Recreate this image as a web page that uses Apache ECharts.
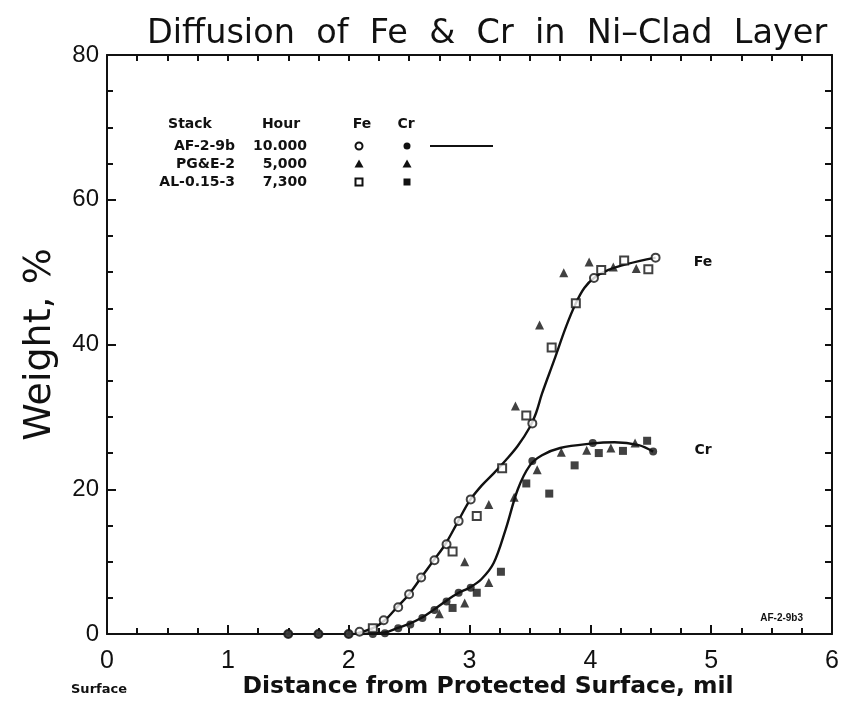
<!DOCTYPE html>
<html>
<head>
<meta charset="utf-8">
<script src="https://cdn.jsdelivr.net/npm/echarts@6/dist/echarts.min.js"></script>
<style>
  html, body { margin: 0; padding: 0; background: #fff; }
  #main { width: 842px; height: 716px; }
</style>
</head>
<body>
<div id="main"></div>
<script>
// 读图得到的数据 (distance mil, weight %)
var feAF = [[1.5, 0], [1.75, 0], [2.0, 0], [2.09, 0.3], [2.29, 1.9], [2.41, 3.7], [2.5, 5.5], [2.6, 7.8],
  [2.71, 10.2], [2.81, 12.4], [2.91, 15.6], [3.01, 18.6], [3.52, 29.1], [4.03, 49.2], [4.54, 52.0]];
var crAF = [[1.5, 0], [1.75, 0], [2.0, 0], [2.2, 0], [2.3, 0.1], [2.41, 0.8], [2.51, 1.3], [2.61, 2.2],
  [2.71, 3.3], [2.81, 4.5], [2.91, 5.7], [3.01, 6.4], [3.52, 23.9], [4.02, 26.4], [4.52, 25.2]];
var fePG = [[2.96, 10.0], [3.16, 17.9], [3.38, 31.5], [3.58, 42.7], [3.78, 49.9], [3.99, 51.4], [4.19, 50.7], [4.38, 50.5]];
var crPG = [[2.75, 2.8], [2.96, 4.3], [3.16, 7.1], [3.37, 18.9], [3.56, 22.7], [3.76, 25.1], [3.97, 25.4], [4.17, 25.7], [4.37, 26.4]];
var feAL = [[2.2, 0.8], [2.86, 11.4], [3.06, 16.3], [3.27, 22.9], [3.47, 30.2], [3.68, 39.6], [3.88, 45.7],
  [4.09, 50.3], [4.28, 51.6], [4.48, 50.4]];
var crAL = [[2.86, 3.6], [3.06, 5.7], [3.26, 8.6], [3.47, 20.8], [3.66, 19.4], [3.87, 23.3], [4.07, 25.0], [4.27, 25.3], [4.47, 26.7]];

// 拟合曲线
var feCurve = [[2.05, 0], [2.2, 0.8], [2.3, 1.9], [2.4, 3.7], [2.5, 5.5], [2.6, 7.8], [2.7, 10.1], [2.8, 12.4],
  [2.9, 15.4], [3.0, 18.4], [3.1, 20.5], [3.2, 22.2], [3.3, 24.0], [3.4, 26.0], [3.5, 28.6], [3.55, 30.5],
  [3.6, 33.2], [3.7, 37.8], [3.8, 42.5], [3.88, 45.7], [3.95, 47.8], [4.03, 49.2], [4.15, 50.3], [4.3, 51.1], [4.54, 52.0]];
var crCurve = [[2.1, 0], [2.3, 0.2], [2.4, 0.8], [2.5, 1.4], [2.6, 2.2], [2.7, 3.3], [2.8, 4.5], [2.9, 5.6],
  [3.0, 6.4], [3.1, 7.6], [3.2, 9.8], [3.3, 14.5], [3.4, 20.0], [3.5, 23.3], [3.6, 24.7], [3.75, 25.7],
  [4.0, 26.3], [4.2, 26.5], [4.4, 26.1], [4.52, 25.2]];

var stacks = ['AF-2-9b', 'PG&E-2', 'AL-0.15-3'];
var hours = ['10.000', '5,000', '7,300'];

var chart = echarts.init(document.getElementById('main'), null, { renderer: 'canvas' });

var ink = '#111';
var lblFont = 'Liberation Sans';
var boldFont = 'DejaVu Sans';

function pts(name, data, symbol, filled, size) {
  return {
    name: name,
    type: 'scatter',
    data: data,
    symbol: symbol,
    symbolSize: size || 7,
    itemStyle: filled ? { color: ink } : { color: '#fff', borderColor: ink, borderWidth: 2 },
    z: 5
  };
}

function frameAxis(extra) {
  var a = {
    type: 'value',
    axisLine: { onZero: false, lineStyle: { color: ink, width: 2 } },
    axisTick: { inside: true, length: 9, lineStyle: { color: ink, width: 2 } },
    minorTick: { show: true, splitNumber: 4, length: 6, lineStyle: { color: ink, width: 2 } },
    splitLine: { show: false }
  };
  for (var k in extra) a[k] = extra[k];
  return a;
}

function legendRows() {
  var els = [];
  var f = 'bold 14px ' + boldFont;
  var hx = [{ t: 'Stack', x: 190 }, { t: 'Hour', x: 281 }, { t: 'Fe', x: 362 }, { t: 'Cr', x: 406 }];
  hx.forEach(function (h) {
    els.push({ type: 'text', x: h.x, y: 124, style: { text: h.t, font: f, fill: ink, align: 'center', verticalAlign: 'middle' } });
  });
  var ys = [146, 164, 182];
  var syms = ['circle', 'triangle', 'rect'];
  for (var i = 0; i < stacks.length; i++) {
    els.push({ type: 'text', x: 235, y: ys[i], style: { text: stacks[i], font: f, fill: ink, align: 'right', verticalAlign: 'middle' } });
    els.push({ type: 'text', x: 307, y: ys[i], style: { text: hours[i], font: f, fill: ink, align: 'right', verticalAlign: 'middle' } });
    [[359, false], [407, true]].forEach(function (m) {
      var st = m[1] ? { fill: ink } : { fill: '#fff', stroke: ink, lineWidth: 2 };
      if (syms[i] === 'circle') els.push({ type: 'circle', shape: { cx: m[0], cy: ys[i], r: 3.5 }, style: st });
      else if (syms[i] === 'rect') els.push({ type: 'rect', shape: { x: m[0] - 3.5, y: ys[i] - 3.5, width: 7, height: 7 }, style: st });
      else els.push({ type: 'polygon', shape: { points: [[m[0], ys[i] - 4.5], [m[0] - 4.5, ys[i] + 3.5], [m[0] + 4.5, ys[i] + 3.5]] }, style: { fill: ink } });
    });
  }
  els.push({ type: 'line', shape: { x1: 430, y1: 146, x2: 493, y2: 146 }, style: { stroke: ink, lineWidth: 2 } });
  return els;
}

var option = {
  backgroundColor: '#ffffff',
  animation: false,
  title: {
    text: 'Diffusion  of  Fe  &  Cr  in  Ni\u2013Clad  Layer',
    left: 142,
    top: 12,
    textStyle: { fontFamily: 'DejaVu Sans', fontWeight: 'normal', fontSize: 33.5, color: ink }
  },
  grid: { left: 107, right: 10, top: 55, bottom: 82 },
  xAxis: [
    frameAxis({ min: 0, max: 6, interval: 1, position: 'bottom',
      axisLabel: { color: ink, fontSize: 25, fontFamily: lblFont, margin: 15 } }),
    frameAxis({ min: 0, max: 6, interval: 1, position: 'top',
      axisTick: { inside: true, length: 6, lineStyle: { color: ink, width: 2 } },
      axisLabel: { show: false } })
  ],
  yAxis: [
    frameAxis({ min: 0, max: 80, interval: 20, position: 'left',
      name: 'Weight, %', nameLocation: 'middle', nameGap: 48, nameRotate: 90,
      nameTextStyle: { fontFamily: 'DejaVu Sans', fontSize: 38, color: ink },
      axisLabel: { color: ink, fontSize: 24, fontFamily: lblFont, margin: 8 } }),
    frameAxis({ min: 0, max: 80, interval: 20, position: 'right',
      axisTick: { inside: true, length: 7, lineStyle: { color: ink, width: 2 } },
      minorTick: { show: true, splitNumber: 4, length: 7, lineStyle: { color: ink, width: 2 } },
      axisLabel: { show: false } })
  ],
  series: [
    { name: 'Fe curve', type: 'line', data: feCurve, smooth: 0.35, symbol: 'none', lineStyle: { color: ink, width: 2.4 }, z: 3 },
    { name: 'Cr curve', type: 'line', data: crCurve, smooth: 0.35, symbol: 'none', lineStyle: { color: ink, width: 2.4 }, z: 3 },
    pts('AF-2-9b Fe', feAF, 'circle', false, 8),
    pts('AF-2-9b Cr', crAF, 'circle', true, 8),
    pts('PG&E-2 Fe', fePG, 'triangle', true, 9),
    pts('PG&E-2 Cr', crPG, 'triangle', true, 9),
    pts('AL-0.15-3 Fe', feAL, 'rect', false, 8),
    pts('AL-0.15-3 Cr', crAL, 'rect', true, 8)
  ],
  graphic: legendRows().concat([
    { type: 'text', x: 703, y: 262, style: { text: 'Fe', font: 'bold 14px ' + boldFont, fill: ink, align: 'center', verticalAlign: 'middle' } },
    { type: 'text', x: 703, y: 450, style: { text: 'Cr', font: 'bold 14px ' + boldFont, fill: ink, align: 'center', verticalAlign: 'middle' } },
    { type: 'text', x: 803, y: 618, style: { text: 'AF-2-9b3', font: 'bold 10px ' + lblFont, fill: ink, align: 'right', verticalAlign: 'middle' } },
    { type: 'text', x: 99, y: 690, style: { text: 'Surface', font: 'bold 13px ' + boldFont, fill: ink, align: 'center', verticalAlign: 'middle' } },
    { type: 'text', x: 488, y: 687, style: { text: 'Distance from Protected Surface, mil', font: 'bold 23.5px ' + boldFont, fill: ink, align: 'center', verticalAlign: 'middle' } }
  ])
};

chart.setOption(option);
</script>
</body>
</html>
